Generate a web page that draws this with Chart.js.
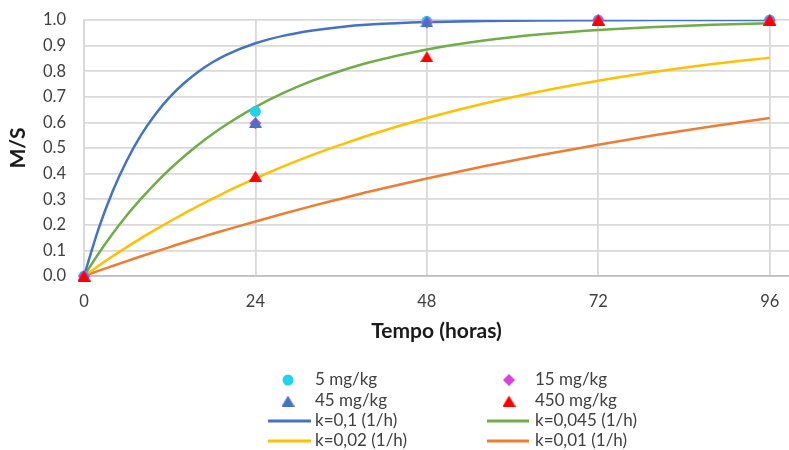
<!DOCTYPE html>
<html><head><meta charset="utf-8">
<script src="https://cdn.jsdelivr.net/npm/chart.js@4.4.0/dist/chart.umd.min.js"></script>
<style>html,body{margin:0;padding:0;background:#fff;overflow:hidden}#wrap{width:789px;height:450px;position:relative}</style>
</head><body><div id="wrap"><canvas id="c" width="789" height="450"></canvas></div>
<script>
// ---- data ----
const xTicks = [0, 24, 48, 72, 96];
const yTicks = [0, 0.1, 0.2, 0.3, 0.4, 0.5, 0.6, 0.7, 0.8, 0.9, 1.0];
const curveTimes = [0, 2, 4, 6, 8, 10, 12, 14, 16, 18, 20, 24, 28, 32, 36, 40, 48, 56, 64, 72, 80, 88, 96];
const curveK0100 = [0, 0.181, 0.330, 0.451, 0.551, 0.632, 0.699, 0.753, 0.798, 0.835, 0.865, 0.909, 0.939, 0.959, 0.973, 0.982, 0.992, 0.996, 0.998, 0.999, 1.000, 1.000, 1.000];
const curveK0045 = [0, 0.086, 0.165, 0.237, 0.302, 0.362, 0.417, 0.467, 0.513, 0.555, 0.593, 0.660, 0.716, 0.763, 0.802, 0.835, 0.885, 0.920, 0.944, 0.961, 0.973, 0.981, 0.987];
const curveK0020 = [0, 0.039, 0.077, 0.113, 0.148, 0.181, 0.213, 0.244, 0.274, 0.302, 0.330, 0.381, 0.429, 0.473, 0.513, 0.551, 0.617, 0.674, 0.722, 0.763, 0.798, 0.828, 0.853];
const curveK0010 = [0, 0.020, 0.039, 0.058, 0.077, 0.095, 0.113, 0.131, 0.148, 0.165, 0.181, 0.213, 0.244, 0.274, 0.302, 0.330, 0.381, 0.429, 0.473, 0.513, 0.551, 0.585, 0.617];
const obsTimes = [0, 24, 48, 72, 96];
const obs5 = [0, 0.643, 0.995, 1.0, 1.0];
const obs15 = [0, 0.597, 0.990, 1.0, 1.0];
const obs45 = [0, 0.600, 0.993, 1.0, 1.0];
const obs450 = [0, 0.390, 0.857, 1.0, 1.0];
const seriesLabels = ['5 mg/kg', '15 mg/kg', '45 mg/kg', '450 mg/kg', 'k=0,1 (1/h)', 'k=0,045 (1/h)', 'k=0,02 (1/h)', 'k=0,01 (1/h)'];

const pts = (xs, ys) => xs.map((x, i) => ({x: x, y: ys[i]}));
const FONT = 'Lato, "Open Sans", sans-serif';

// Excel-like triangle marker (centred on its bounding box)
function triangleImage(color) {
  const cv = document.createElement('canvas');
  cv.width = 13; cv.height = 11;
  const g = cv.getContext('2d');
  g.fillStyle = color;
  g.beginPath(); g.moveTo(6.5, 0); g.lineTo(13, 11); g.lineTo(0, 11); g.closePath(); g.fill();
  return cv;
}

function markerDs(label, data, color, style, r, order) {
  return {label, data, type: 'scatter', showLine: false, pointStyle: style, pointRadius: r, pointHoverRadius: r,
    backgroundColor: color, borderColor: color, borderWidth: 0, order, clip: false};
}
function curveDs(label, data, color, order) {
  return {label, data, type: 'scatter', showLine: true, pointRadius: 0, pointHoverRadius: 0, borderColor: color,
    backgroundColor: color, borderWidth: 2.5, cubicInterpolationMode: 'monotone', fill: false, order};
}

const datasets = [
  markerDs(seriesLabels[0], pts(obsTimes, obs5), '#1fd3ee', 'circle', 5.5, 4),
  markerDs(seriesLabels[1], pts(obsTimes, obs15), '#e03fe0', 'rectRot', 6, 3),
  markerDs(seriesLabels[2], pts(obsTimes, obs45), '#4472c4', triangleImage('#4472c4'), 7, 2),
  markerDs(seriesLabels[3], pts(obsTimes, obs450), '#ff0000', triangleImage('#ff0000'), 7, 1),
  curveDs(seriesLabels[4], pts(curveTimes, curveK0100), '#4472c4', 5),
  curveDs(seriesLabels[5], pts(curveTimes, curveK0045), '#70ad47', 6),
  curveDs(seriesLabels[6], pts(curveTimes, curveK0020), '#ffc000', 7),
  curveDs(seriesLabels[7], pts(curveTimes, curveK0010), '#ed7d31', 8)
];

function drawMarker(ctx, style, color, r, x, y) {
  ctx.save();
  if (typeof style !== 'string') {
    ctx.drawImage(style, x - style.width / 2, y - style.height / 2);
    ctx.restore();
    return;
  }
  ctx.fillStyle = color;
  ctx.beginPath();
  if (style === 'circle') {
    ctx.arc(x, y, r, 0, Math.PI * 2);
  } else if (style === 'rectRot') {
    ctx.moveTo(x, y - r); ctx.lineTo(x + r, y); ctx.lineTo(x, y + r); ctx.lineTo(x - r, y); ctx.closePath();
  }
  ctx.fill();
  ctx.restore();
}

const legendPlugin = {
  id: 'gridLegend',
  afterDraw(chart) {
    const ctx = chart.ctx;
    const cols = [{mx: 288, l1: 268, l2: 311, tx: 315}, {mx: 509, l1: 487, l2: 529, tx: 535}];
    const rows = [380, 401, 421, 441];
    chart.data.datasets.forEach((ds, i) => {
      const c = cols[i % 2], y = rows[Math.floor(i / 2)];
      if (ds.showLine) {
        ctx.save();
        ctx.strokeStyle = ds.borderColor; ctx.lineWidth = 3;
        ctx.beginPath(); ctx.moveTo(c.l1, y); ctx.lineTo(c.l2, y); ctx.stroke();
        ctx.restore();
      } else {
        drawMarker(ctx, ds.pointStyle, ds.backgroundColor, ds.pointRadius, c.mx, y);
      }
      ctx.save();
      ctx.fillStyle = '#404040';
      ctx.font = '17px ' + FONT;
      ctx.textBaseline = 'middle';
      ctx.textAlign = 'left';
      ctx.fillText(ds.label, c.tx, y);
      ctx.restore();
    });
  }
};

new Chart(document.getElementById('c'), {
  type: 'scatter',
  data: {datasets},
  plugins: [legendPlugin],
  options: {
    responsive: false,
    animation: false,
    devicePixelRatio: 1,
    layout: {autoPadding: false, padding: {top: 20, right: 0, bottom: 104, left: 0}},
    plugins: {legend: {display: false}, tooltip: {enabled: false}},
    scales: {
      x: {
        type: 'linear', min: 0, max: 98.7,
        afterBuildTicks: s => { s.ticks = xTicks.map(v => ({value: v})); },
        afterFit: s => { s.height = 70; s.paddingLeft = 0; s.paddingRight = 0; },
        grid: {color: '#d9d9d9', lineWidth: 1.8, drawTicks: false},
        border: {color: '#bfbfbf', width: 1.8},
        ticks: {font: {family: FONT, size: 16.5}, color: '#404040', padding: 16, maxRotation: 0, autoSkip: false,
          callback: v => String(v)},
        title: {display: true, text: 'Tempo (horas)', font: {family: FONT, size: 21, weight: 'bold'}, color: '#1a1a1a',
          padding: {top: 0, bottom: 2}}
      },
      y: {
        type: 'linear', min: 0, max: 1,
        afterBuildTicks: s => { s.ticks = yTicks.map(v => ({value: v})); },
        afterFit: s => { s.width = 84; s.paddingTop = 0; s.paddingBottom = 0; },
        grid: {color: '#d9d9d9', lineWidth: 1.8, drawTicks: false},
        border: {color: '#d9d9d9', width: 1.8},
        ticks: {font: {family: FONT, size: 16.5}, color: '#404040', padding: 18,
          callback: v => Number(v).toFixed(1)},
        title: {display: true, text: 'M/S', font: {family: FONT, size: 21, weight: 'bold'}, color: '#1a1a1a',
          padding: {top: 6, bottom: 0}}
      }
    }
  }
});
</script></body></html>
